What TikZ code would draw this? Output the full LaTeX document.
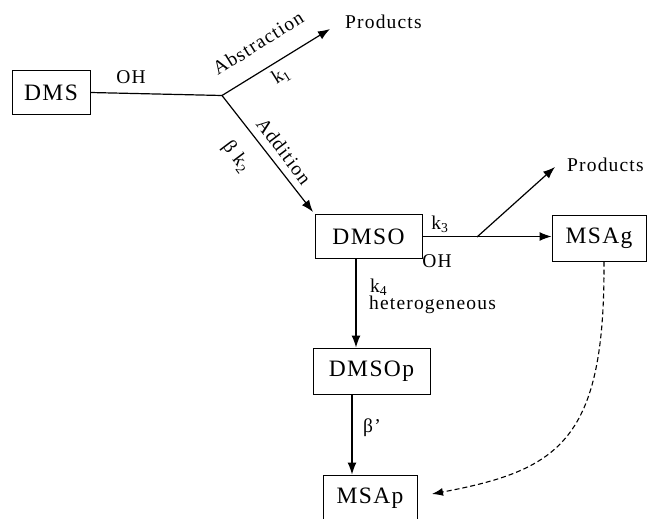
\documentclass[tikz,border=0pt]{standalone}
\usepackage{fontspec}
\setmainfont[LetterSpace=6]{Liberation Serif}
\usetikzlibrary{arrows.meta}
\tikzset{
  boxnode/.style={draw, line width=1pt, minimum height=44pt, inner sep=0pt, font=\fontsize{23.5}{26}\selectfont},
  lbl/.style={inner sep=0pt, font=\fontsize{19.5}{22}\selectfont},
  conn/.style={line width=1.2pt},
  arr/.style={conn, -{Latex[length=12pt,width=9pt]}},
  darr/.style={line width=1.1pt, dash pattern=on 5pt off 3pt, -{Latex[length=11pt,width=8pt]}}
}
\begin{document}
\begin{tikzpicture}[x=1pt,y=-1pt]
\useasboundingbox (0,0) rectangle (649,519);
% boxes
\node[boxnode, minimum width=78pt] (DMS) at (51,92.5) {DMS};
\node[boxnode, minimum width=107pt] (DMSO) at (368.5,236.5) {DMSO};
\node[boxnode, minimum width=94pt, minimum height=46pt] (MSAg) at (599,238) {MSAg};
\node[boxnode, minimum width=117pt, minimum height=46pt] (DMSOp) at (371.5,371) {DMSOp};
\node[boxnode, minimum width=94pt, minimum height=46pt] (MSAp) at (370,498) {MSAp};
% products
\node[lbl, anchor=west] (P1) at (345,22) {Products};
\node[lbl, anchor=west] (P2) at (567,165) {Products};
% junctions / free ends
\coordinate (J) at (222,95.5);
\coordinate (P1tip) at (330,29);
\coordinate (B) at (477,237);
\coordinate (P2tip) at (555,167);
\coordinate (Atip) at (313,212);
\coordinate (c4) at (356,0);
\coordinate (c5) at (352,0);
\coordinate (Dtip) at (432,494);
% connectors
\draw[conn] (DMS.east) -- (J);
\draw[arr] (J) -- (P1tip);
\draw[arr] (J) -- (Atip);
\draw[arr] (DMSO.east) -- (MSAg.west |- DMSO.east);
\draw[arr] (B) -- (P2tip);
\draw[arr] (DMSO.south -| c4) -- (DMSOp.north -| c4);
\draw[arr] (DMSOp.south -| c5) -- (MSAp.north -| c5);
\draw[darr] ([xshift=5pt]MSAg.south) .. controls (605,440) and (560,470) .. (Dtip);
% labels
\node[lbl] (lOH1) at (131,77) {OH};
\node[lbl, rotate=32] (lAbs) at (258,43) {Abstraction};
\node[lbl, rotate=32] (lk1) at (281,76) {k\textsubscript{1}};
\node[lbl, rotate=-53] (lAdd) at (284,151) {Addition};
\node[lbl, rotate=-53] (lbk2) at (236,157) {β k\textsubscript{2}};
\node[lbl] (lk3) at (440,224) {k\textsubscript{3}};
\node[lbl] (lOH2) at (437,261) {OH};
\node[lbl, anchor=west] (lk4) at (370,287) {k\textsubscript{4}};
\node[lbl, anchor=west] (lhet) at (369,305) {heterogeneous};
\node[lbl, anchor=west] (lbeta) at (363,428) {β'};
\end{tikzpicture}
\end{document}
